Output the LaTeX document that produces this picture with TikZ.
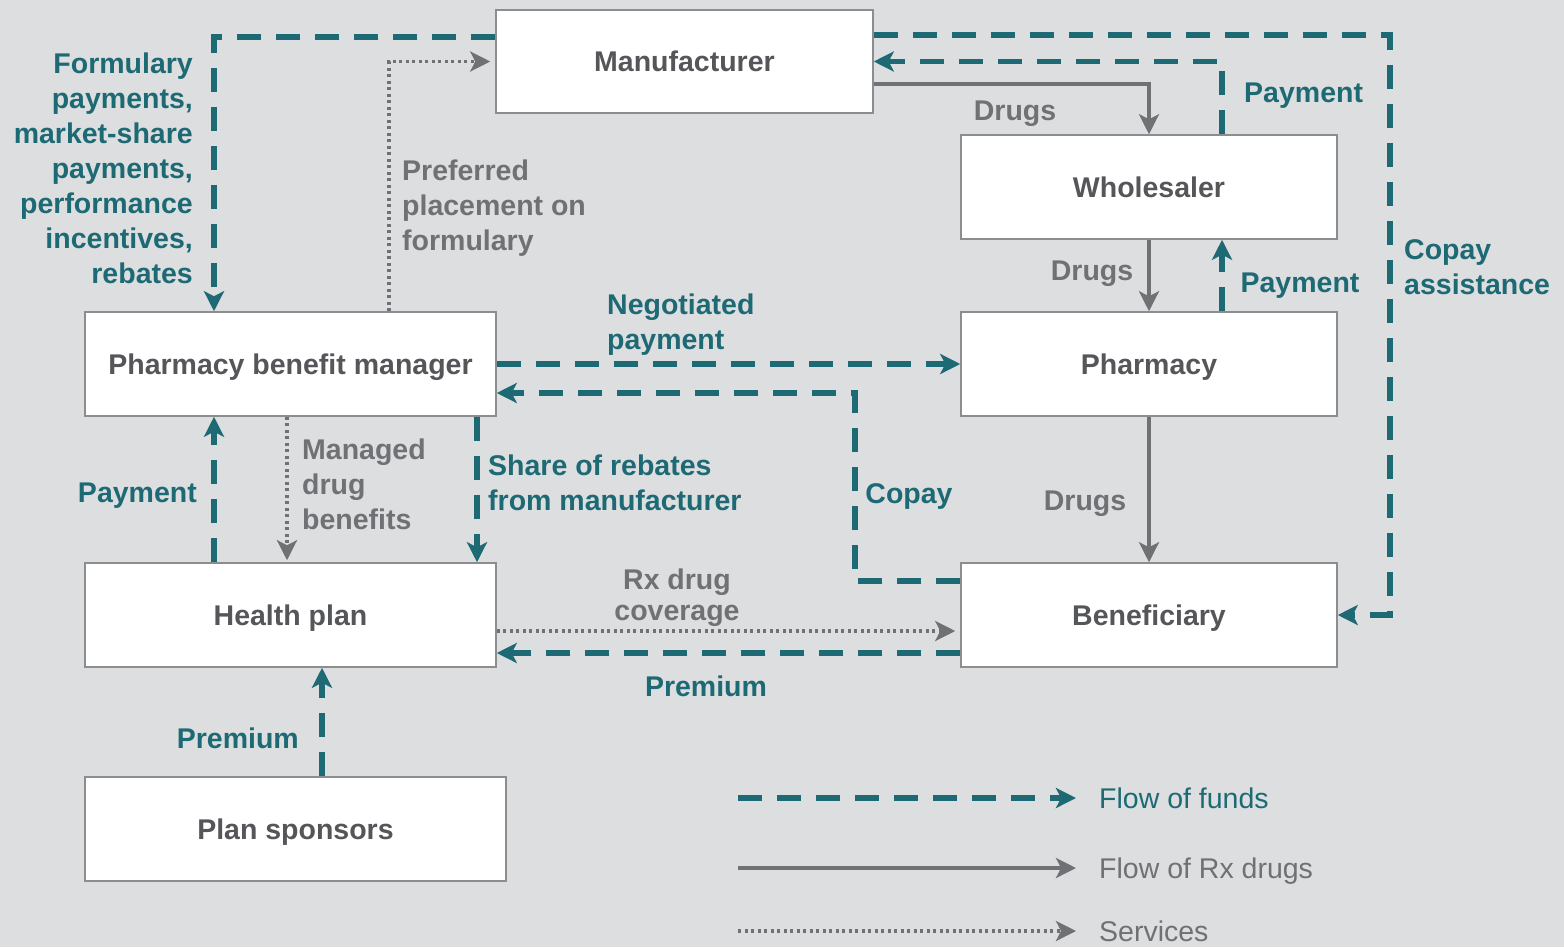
\documentclass[tikz,border=0pt]{standalone}
\usepackage{fontspec}
\setmainfont{Liberation Sans}
\usetikzlibrary{arrows.meta}
\definecolor{bgcol}{RGB}{221,222,224}
\definecolor{tealcol}{RGB}{30,106,116}
\definecolor{drugcol}{RGB}{112,113,116}
\definecolor{boxcol}{RGB}{140,141,143}
\definecolor{namecol}{RGB}{85,86,89}
\definecolor{lblcol}{RGB}{112,113,116}
\begin{document}
\begin{tikzpicture}[x=1bp,y=-1bp,line join=miter,
  >={Stealth[length=20bp,width=20bp,inset=5bp]},
  every node/.style={font=\fontsize{28.5bp}{35bp}\selectfont\bfseries,text depth=0pt},
  box/.style={draw=boxcol,line width=1.5bp,fill=white,inner sep=0pt,minimum height=104bp,text=namecol},
  funds/.style={draw=tealcol,line width=5.5bp,dash pattern=on 24bp off 15bp,->},
  drugs/.style={draw=drugcol,line width=3.5bp,->},
  serv/.style={draw=drugcol,line width=3.5bp,dash pattern=on 3bp off 3.5bp,->},
  fundlbl/.style={text=tealcol,inner sep=0pt},
  drulbl/.style={text=lblcol,inner sep=0pt},
  legend/.style={inner sep=0pt,anchor=west,font=\fontsize{28.5bp}{35bp}\selectfont\mdseries},
  ]
  \fill[bgcol] (0,0) rectangle (1564,947);
  \useasboundingbox (0,0) rectangle (1564,947);
%%
  % Node: Manufacturer
  \node[box,minimum width=377bp,minimum height=103bp] (mfr) at (684.5,61.5) {Manufacturer};
  % Node: Wholesaler
  \node[box,minimum width=376bp] (whs) at (1149,187) {Wholesaler};
  % Node: Pharmacy_benefit_manager
  \node[box,minimum width=411bp] (pbm) at (290.5,364) {Pharmacy benefit manager};
  % Node: Pharmacy
  \node[box,minimum width=376bp] (phy) at (1149,364) {Pharmacy};
  % Node: Health_plan
  \node[box,minimum width=411bp] (hpl) at (290.5,615) {Health plan};
  % Node: Beneficiary
  \node[box,minimum width=376bp] (ben) at (1149,615) {Beneficiary};
  % Node: Plan_sponsors
  \node[box,minimum width=421bp] (spn) at (295.5,829) {Plan sponsors};
%%
  % Edge: Manufacturer -> Pharmacy_benefit_manager
  \draw[funds] (mfr.west |- 0,37) -| (214,0 |- pbm.north);
  \node[fundlbl,align=right,anchor=east] (lblform) at (193,168) {Formulary\\payments,\\market-share\\payments,\\performance\\incentives,\\rebates};
  % Edge: Pharmacy_benefit_manager -> Manufacturer
  \draw[serv,shorten >=5bp] (389,0 |- pbm.north) |- (mfr.west);
  \node[drulbl,align=left,anchor=west] (lblpref) at (402,205) {Preferred\\placement on\\formulary};
  % Edge: Manufacturer -> Wholesaler
  \draw[drugs] (mfr.east |- 0,84) -| (whs.north);
  \node[drulbl] (lbldrugs1) at (1015,111) {Drugs};
  % Edge: Wholesaler -> Manufacturer
  \draw[funds] (1222,0 |- whs.north) |- (mfr.east);
  \node[fundlbl,anchor=west] (lblpay1) at (1244,93) {Payment};
  % Edge: Manufacturer -> Beneficiary
  \draw[funds] (mfr.east |- 0,35) -| (1390,0 |- ben.east) -- (ben.east);
  \node[fundlbl,align=left,anchor=west] (lblcopas) at (1404,267) {Copay\\assistance};
  % Edge: Wholesaler -> Pharmacy
  \draw[drugs] (whs.south) -- (phy.north);
  \node[drulbl] (lbldrugs2) at (1092,271) {Drugs};
  % Edge: Pharmacy -> Wholesaler
  \draw[funds] (1222,0 |- phy.north) -- (1222,0 |- whs.south);
  \node[fundlbl] (lblpay2) at (1300,283) {Payment};
  % Edge: Pharmacy_benefit_manager -> Pharmacy
  \draw[funds] (pbm.east) -- (phy.west);
  \node[fundlbl,align=left,anchor=west] (lblnego) at (607,322) {Negotiated\\payment};
  % Edge: Beneficiary -> Pharmacy_benefit_manager
  \draw[funds] (ben.west |- 0,581) -| (855,393) -- (pbm.east |- 0,393);
  \node[fundlbl] (lblcopay) at (909,494) {Copay};
  % Edge: Pharmacy_benefit_manager -> Health_plan
  \draw[funds] (477,0 |- pbm.south) -- (477,0 |- hpl.north);
  \node[fundlbl,align=left,anchor=west] (lblshare) at (488,483) {Share of rebates\\from manufacturer};
  % Edge: Pharmacy_benefit_manager -> Health_plan
  \draw[serv,shorten >=2bp] (287,0 |- pbm.south) -- (287,0 |- hpl.north);
  \node[drulbl,align=left,anchor=west] (lblmanag) at (302,484) {Managed\\drug\\benefits};
  % Edge: Health_plan -> Pharmacy_benefit_manager
  \draw[funds] (214,0 |- hpl.north) -- (214,0 |- pbm.south);
  \node[fundlbl,anchor=east] (lblpay3) at (197,493) {Payment};
  % Edge: Pharmacy -> Beneficiary
  \draw[drugs] (phy.south) -- (ben.north);
  \node[drulbl] (lbldrugs3) at (1085,501) {Drugs};
  % Edge: Health_plan -> Beneficiary
  \draw[serv,shorten >=5bp] (hpl.east |- 0,631) -- (ben.west |- 0,631);
  \node[drulbl,align=center,font=\fontsize{28.5bp}{31bp}\selectfont\bfseries] (lblrx) at (677,595) {Rx drug\\coverage};
  % Edge: Beneficiary -> Health_plan
  \draw[funds] (ben.west |- 0,653) -- (hpl.east |- 0,653);
  \node[fundlbl] (lblprem1) at (706,686) {Premium};
  % Edge: Plan_sponsors -> Health_plan
  \draw[funds] (322,0 |- spn.north) -- (322,0 |- hpl.south);
  \node[fundlbl,anchor=east] (lblprem2) at (299,738) {Premium};
%%
  % Legend
  \node[legend,text=tealcol] (lgfunds) at (1099,798) {Flow of funds};
  \coordinate (lgfundsA) at (738,798);
  \draw[funds] (lgfundsA) -- ([xshift=-23bp]lgfunds.west);
  \node[legend,text=lblcol] (lgdrugs) at (1099,868) {Flow of Rx drugs};
  \coordinate (lgdrugsA) at (738,868);
  \draw[drugs] (lgdrugsA) -- ([xshift=-23bp]lgdrugs.west);
  \node[legend,text=lblcol] (lgserv) at (1099,931) {Services};
  \coordinate (lgservA) at (738,931);
  \draw[serv] (lgservA) -- ([xshift=-23bp]lgserv.west);
%
\end{tikzpicture}
\end{document}
